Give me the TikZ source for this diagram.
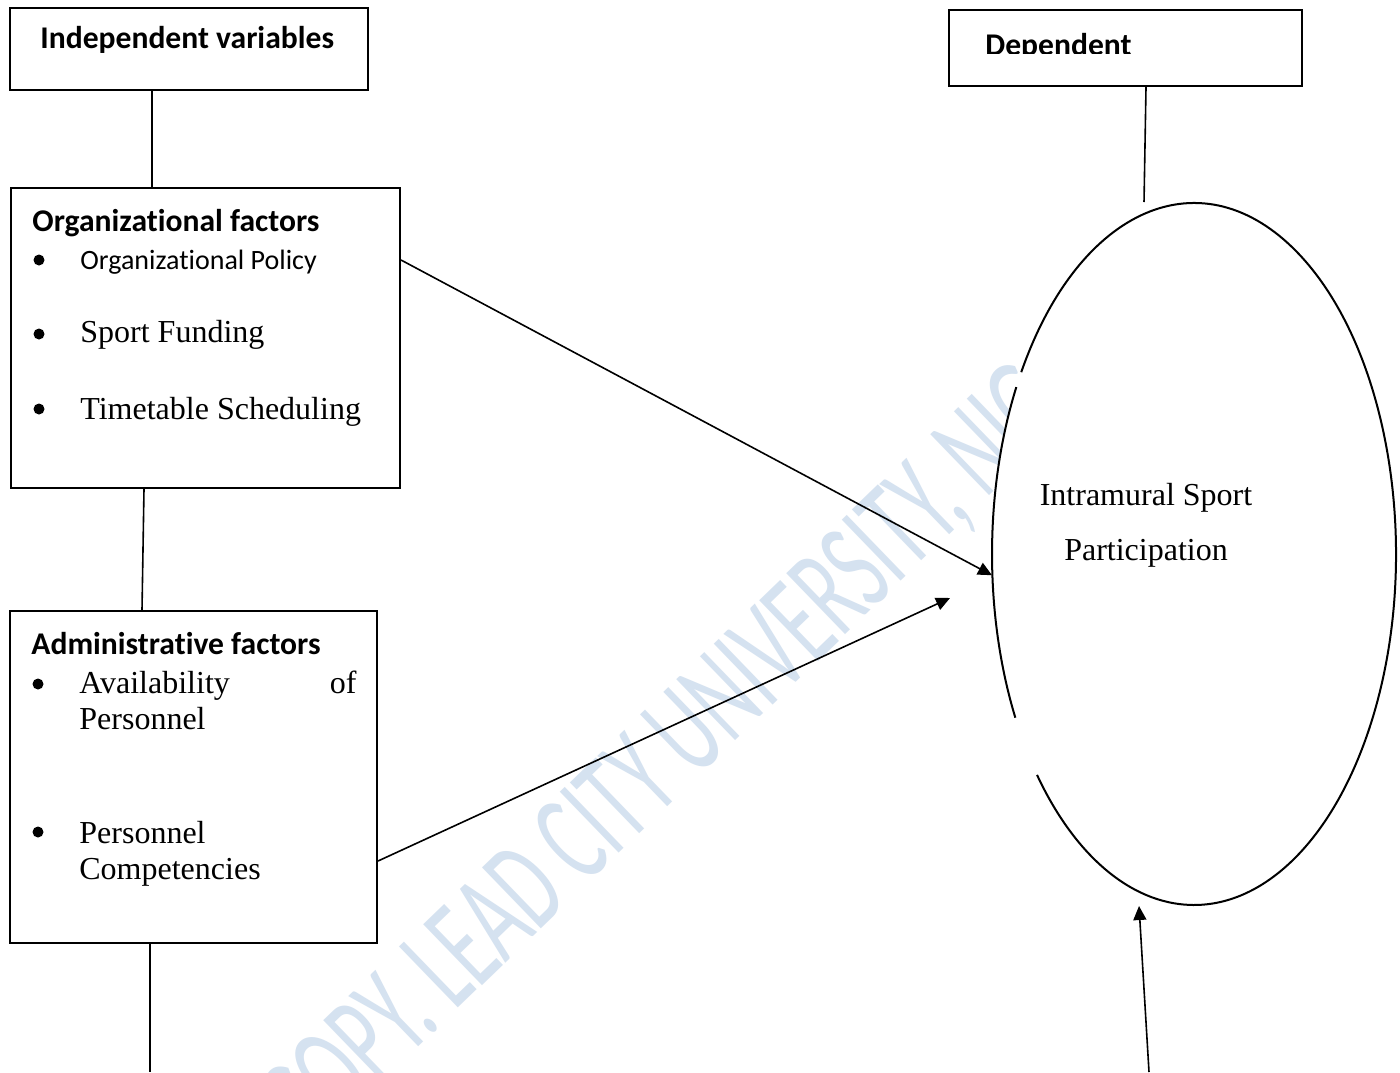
\documentclass[tikz,border=0pt]{standalone}
\usepackage{fontspec}
\usepackage{graphicx}
\setmainfont{Liberation Serif}
\newfontfamily\calfont[Ligatures=NoCommon]{Carlito}
\usetikzlibrary{arrows.meta,shapes.geometric,calc}
\definecolor{wmblue}{RGB}{213,226,240}
\begin{document}
\begin{tikzpicture}[x=0.5pt,y=-0.5pt,
  boxst/.style={draw, line width=1pt, inner sep=0pt},
  conn/.style={line width=0.8pt},
  arr/.style={line width=0.8pt, -{Triangle[length=7pt,width=6.5pt]}},
  head/.style={anchor=base west, inner sep=0pt, font=\calfont\fontsize{15.8}{18}\selectfont\bfseries},
  calitem/.style={anchor=base west, inner sep=0pt, font=\calfont\fontsize{14}{17}\selectfont},
  tnritem/.style={anchor=base west, inner sep=0pt, font=\fontsize{16}{19}\selectfont},
  bul/.style={circle, fill=black, inner sep=0pt, minimum size=5.5pt}]
% page
\fill[white] (0,0) rectangle (1400,1072);
\useasboundingbox (0,0) rectangle (1400,1072);
% watermark
\node[anchor=base west, inner sep=0pt, rotate=44, text=wmblue] (wm) at (312,1150)
  {\calfont\fontsize{66}{70}\selectfont\scalebox{0.59}[1]{COPY. LEAD CITY UNIVERSITY, NIG}};
% ellipse (filled, outline drawn with gaps)
\node[ellipse, fill=white, minimum width=202pt, minimum height=351pt, inner sep=0pt] (ell) at (1194,554) {};
\draw[line width=1pt] (ell.center) ++(211.2:202 and 351) arc[start angle=211.2, end angle=501, x radius=202, y radius=351];
\draw[line width=1pt] (ell.center) ++(152.2:202 and 351) arc[start angle=152.2, end angle=208.4, x radius=202, y radius=351];
% boxes
\node[boxst, minimum width=179pt, minimum height=41pt] (ind) at (189,49) {};
\node[boxst, minimum width=176.5pt, minimum height=38pt] (dep) at (1125.5,48) {};
\node[boxst, minimum width=194.5pt, minimum height=150pt] (org) at (205.5,338) {};
\node[boxst, minimum width=183.5pt, minimum height=166pt] (adm) at (193.5,777) {};
% helper coordinates
\coordinate (x152) at (152,0);
\coordinate (x144) at (144,0);
\coordinate (x142) at (142,0);
\coordinate (x150) at (150,0);
\coordinate (x1146) at (1146,0);
\coordinate (y260) at (0,260);
\coordinate (y861) at (0,861);
\coordinate (depend) at (1144,202);
\coordinate (bot1) at (150,1072);
\coordinate (bot2) at (1149,1072);
\coordinate (a2end) at (950,598);
\coordinate (a3end) at (1139,906);
% texts
\node[head] (tind) at (40,48) {Independent variables};
\begin{scope}
  \clip (949,10) rectangle (1302,53.5);
  \node[head] (tdep) at (985,55) {Dependent};
\end{scope}
\node[head] (torg) at (32,231) {Organizat\kern0pt ional factors};
\node[bul] (b1) at (39,260) {};
\node[calitem] (i1) at (80,269) {Organizat\kern0pt ional Policy};
\node[bul] (b2) at (39,334) {};
\node[tnritem] (i2) at (80,342) {Sport Funding};
\node[bul] (b3) at (39,409) {};
\node[tnritem] (i3) at (80,419) {Timetable Scheduling};
\node[head] (tadm) at (31,654) {Administrat\kern0pt ive factors};
\node[bul] (b4) at (38,684) {};
\node[tnritem] (i4) at (79,693) {Availability};
\node[tnritem, anchor=base east] (i4b) at (357,693) {of};
\node[tnritem] (i4c) at (79,729) {Personnel};
\node[bul] (b5) at (38,832) {};
\node[tnritem] (i5) at (79,843) {Personnel};
\node[tnritem] (i5b) at (79,879) {Competencies};
\node[anchor=base, inner sep=0pt, font=\fontsize{16}{19}\selectfont] (e1) at (1146,505) {Intramural Sport};
\node[anchor=base, inner sep=0pt, font=\fontsize{16}{19}\selectfont] (e2) at (1146,560) {Participation};
% connectors
\draw[conn] (ind.south -| x152) -- (org.north -| x152);
\draw[conn] (org.south -| x144) -- (adm.north -| x142);
\draw[conn] (adm.south -| x150) -- (bot1);
\draw[conn] (dep.south -| x1146) -- (depend);
\draw[arr] (org.east |- y260) -- (ell.186.7);
\draw[arr] (adm.east |- y861) -- (a2end);
\draw[arr] (bot2) -- (a3end);
\end{tikzpicture}
\end{document}
